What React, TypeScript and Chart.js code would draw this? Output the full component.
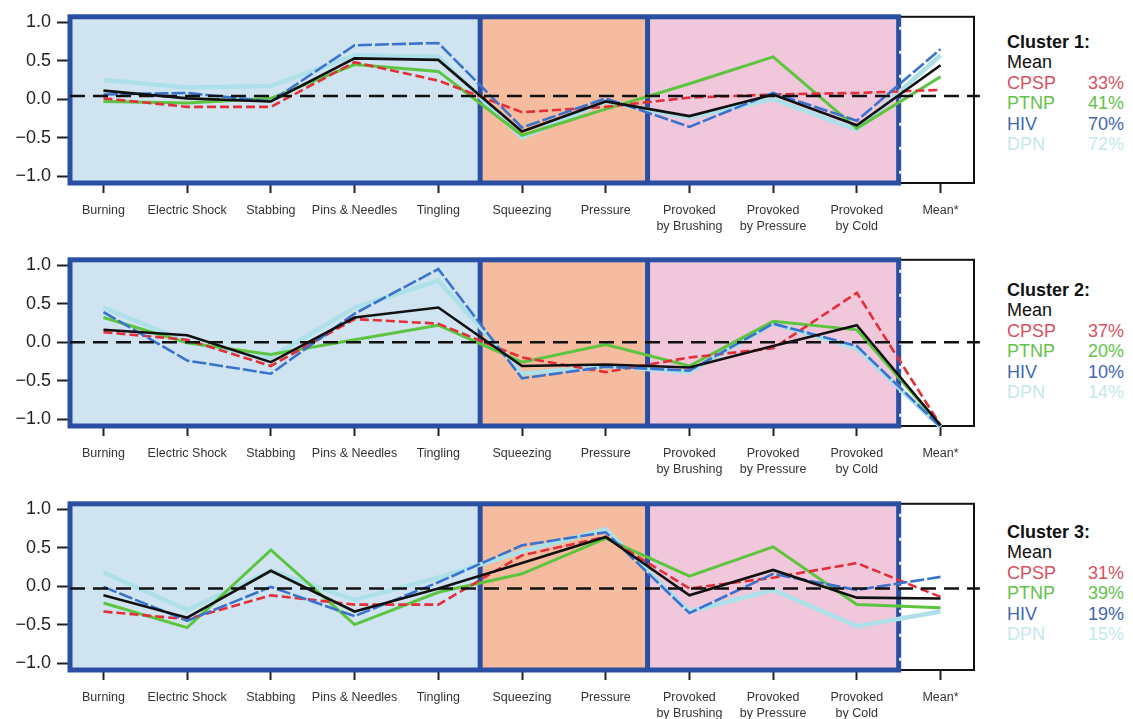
import React, { useEffect, useRef } from "react";
import { Chart, registerables } from "chart.js";
Chart.register(...registerables);

const categories: string[][] = [
  ["Burning"], ["Electric Shock"], ["Stabbing"], ["Pins & Needles"], ["Tingling"],
  ["Squeezing"], ["Pressure"], ["Provoked", "by Brushing"], ["Provoked", "by Pressure"],
  ["Provoked", "by Cold"], ["Mean*"],
];
const yTicks = [-1, -0.5, 0, 0.5, 1];

// Cluster 1
const c1Mean = [0.11, 0.01, -0.03, 0.53, 0.51, -0.42, -0.03, -0.22, 0.06, -0.34, 0.44];
const c1Cpsp = [0.01, -0.1, -0.1, 0.48, 0.24, -0.17, -0.1, 0.02, 0.06, 0.08, 0.12];
const c1Ptnp = [-0.03, -0.05, 0.01, 0.45, 0.36, -0.47, -0.13, 0.2, 0.55, -0.38, 0.29];
const c1Hiv = [0.06, 0.08, -0.03, 0.7, 0.73, -0.37, 0.01, -0.36, 0.08, -0.28, 0.65];
const c1Dpn = [0.25, 0.15, 0.17, 0.57, 0.55, -0.5, -0.03, -0.24, 0.0, -0.4, 0.57];
const c1Ref = 0.04;

// Cluster 2
const c2Mean = [0.16, 0.09, -0.26, 0.32, 0.45, -0.31, -0.29, -0.33, -0.05, 0.22, -1.08];
const c2Cpsp = [0.13, 0.03, -0.31, 0.3, 0.24, -0.2, -0.39, -0.2, -0.08, 0.64, -1.08];
const c2Ptnp = [0.32, -0.01, -0.16, 0.03, 0.22, -0.26, -0.03, -0.31, 0.27, 0.16, -1.08];
const c2Hiv = [0.39, -0.24, -0.41, 0.37, 0.95, -0.47, -0.32, -0.37, 0.24, -0.05, -1.1];
const c2Dpn = [0.45, 0.0, -0.2, 0.45, 0.8, -0.41, -0.31, -0.39, 0.24, -0.08, -1.1];
const c2Ref = 0.0;

// Cluster 3
const c3Mean = [-0.12, -0.41, 0.2, -0.33, -0.03, 0.3, 0.64, -0.12, 0.21, -0.15, -0.16];
const c3Cpsp = [-0.33, -0.43, -0.12, -0.24, -0.24, 0.4, 0.64, -0.03, 0.11, 0.3, -0.14];
const c3Ptnp = [-0.22, -0.54, 0.47, -0.5, -0.08, 0.16, 0.62, 0.13, 0.51, -0.24, -0.28];
const c3Hiv = [-0.01, -0.45, -0.01, -0.39, 0.05, 0.53, 0.7, -0.35, 0.16, -0.05, 0.12];
const c3Dpn = [0.18, -0.31, 0.2, -0.18, 0.11, 0.45, 0.74, -0.33, -0.05, -0.52, -0.33];
const c3Ref = -0.03;

const clusterNames = ["Cluster 1:", "Cluster 2:", "Cluster 3:"];
const groupNames = ["CPSP", "PTNP", "HIV", "DPN"];
const cpspPct = [33, 37, 31];
const ptnpPct = [41, 20, 39];
const hivPct = [70, 10, 19];
const dpnPct = [72, 14, 15];

const regionBounds = [-0.4, 4.5, 6.5, 9.5, 10.4];
const regionColors = ["#cfe4f0", "#f6bca0", "#f1c7dc", "#ffffff"];
const BLUE_BORDER = "#2a4ea2";

const COL_MEAN = "#111111";
const COL_CPSP = "#e2303a";
const COL_PTNP = "#5cc43e";
const COL_HIV = "#3b72cc";
const COL_DPN = "#aee0ea";
const legendColors = ["#d9505f", "#62c24a", "#4266b0", "#c4e8ec"];

const panelPlugin = {
  id: "panels",
  beforeDatasetsDraw(chart: any) {
    const { ctx, chartArea: a, scales } = chart;
    const x = scales.x;
    const px = regionBounds.map((v) => x.getPixelForValue(v));
    ctx.save();
    for (let i = 0; i < 4; i++) {
      ctx.fillStyle = regionColors[i];
      ctx.fillRect(px[i], a.top, px[i + 1] - px[i], a.bottom - a.top);
    }
    ctx.strokeStyle = "#111";
    ctx.lineWidth = 2;
    ctx.strokeRect(px[3], a.top, px[4] - px[3], a.bottom - a.top);
    ctx.strokeStyle = BLUE_BORDER;
    ctx.lineWidth = 5;
    ctx.strokeRect(px[0], a.top, px[3] - px[0], a.bottom - a.top);
    ctx.beginPath();
    ctx.moveTo(px[1], a.top);
    ctx.lineTo(px[1], a.bottom);
    ctx.moveTo(px[2], a.top);
    ctx.lineTo(px[2], a.bottom);
    ctx.stroke();
    ctx.strokeStyle = "#ffffff";
    ctx.lineWidth = 2;
    ctx.setLineDash([3, 21]);
    ctx.beginPath();
    ctx.moveTo(px[3] + 1.5, a.top + 10);
    ctx.lineTo(px[3] + 1.5, a.bottom);
    ctx.stroke();
    ctx.restore();
  },
};

function ds(label: string, data: number[], color: string, width: number, dash: number[]) {
  return {
    label,
    data: data.map((v, i) => ({ x: i, y: v })),
    borderColor: color,
    backgroundColor: color,
    borderWidth: width,
    borderDash: dash,
    pointRadius: 0,
    tension: 0,
    clip: false as any,
  };
}

function Panel({ top, mean, cpsp, ptnp, hiv, dpn, ref }: any) {
  const canvasRef = useRef<HTMLCanvasElement | null>(null);
  useEffect(() => {
    const canvas = canvasRef.current!;
    const chart = new Chart(canvas, {
      type: "line",
      data: {
        datasets: [
          {
            ...ds("zero", [], "#111", 2.5, [15, 8]),
            data: [
              { x: -0.4, y: ref },
              { x: 10.47, y: ref },
            ],
          },
          ds("Mean", mean, COL_MEAN, 2.6, []),
          ds("HIV", hiv, COL_HIV, 2.6, [14, 3]),
          ds("CPSP", cpsp, COL_CPSP, 2.6, [9, 4]),
          ds("PTNP", ptnp, COL_PTNP, 3, []),
          ds("DPN", dpn, COL_DPN, 4.5, []),
        ] as any,
      },
      options: {
        responsive: false,
        animation: false,
        layout: { padding: { top: 14, right: 16, bottom: 0, left: 0 } },
        plugins: { legend: { display: false }, tooltip: { enabled: false } },
        scales: {
          x: {
            type: "linear",
            min: -0.4,
            max: 10.4,
            afterBuildTicks: (axis: any) => {
              axis.ticks = categories.map((_, i) => ({ value: i }));
            },
            afterFit: (axis: any) => {
              axis.height = 57;
            },
            ticks: {
              autoSkip: false,
              maxRotation: 0,
              padding: 9,
              color: "#333",
              font: { family: "'Liberation Sans', Arial, sans-serif", size: 12.5, lineHeight: 1.3 },
              callback: (v: any) => categories[Math.round(Number(v))] ?? "",
            },
            grid: { drawOnChartArea: false, drawTicks: true, tickLength: 10, tickWidth: 2, tickColor: "#222" },
            border: { display: false },
          },
          y: {
            type: "linear",
            min: -1.09,
            max: 1.07,
            afterBuildTicks: (axis: any) => {
              axis.ticks = yTicks.map((v) => ({ value: v }));
            },
            afterFit: (axis: any) => {
              axis.width = 70;
            },
            ticks: {
              padding: 6,
              color: "#222",
              font: { family: "'Liberation Sans', Arial, sans-serif", size: 18 },
              callback: (v: any) => {
                const n = Number(v);
                const s = Math.abs(n).toFixed(1);
                return n < 0 ? "\u2212" + s : s;
              },
            },
            grid: { drawOnChartArea: false, drawTicks: true, tickLength: 13, tickWidth: 2, tickColor: "#222" },
            border: { display: false },
          },
        },
      },
      plugins: [panelPlugin],
    });
    return () => chart.destroy();
  }, []);
  return (
    <canvas
      ref={canvasRef}
      width={990}
      height={240}
      style={{ position: "absolute", left: 0, top, width: 990, height: 240 }}
    />
  );
}

function Legend({ idx, top }: { idx: number; top: number }) {
  const pcts = [cpspPct[idx], ptnpPct[idx], hivPct[idx], dpnPct[idx]];
  const font = "'Liberation Sans', Arial, sans-serif";
  return (
    <div style={{ position: "absolute", left: 1007, top, fontFamily: font, fontSize: 18, lineHeight: "20.4px" }}>
      <div style={{ fontWeight: "bold", color: "#111" }}>{clusterNames[idx]}</div>
      <div style={{ color: "#111" }}>Mean</div>
      {groupNames.map((g, i) => (
        <div key={g} style={{ color: legendColors[i], position: "relative", height: 20.4 }}>
          <span>{g}</span>
          <span style={{ position: "absolute", left: 81 }}>{pcts[i]}%</span>
        </div>
      ))}
    </div>
  );
}

export default function App() {
  return (
    <div style={{ position: "absolute", left: 0, top: 0, width: 1133, height: 719, background: "#fff", overflow: "hidden" }}>
      <Panel top={0} mean={c1Mean} cpsp={c1Cpsp} ptnp={c1Ptnp} hiv={c1Hiv} dpn={c1Dpn} ref={c1Ref} />
      <Panel top={243} mean={c2Mean} cpsp={c2Cpsp} ptnp={c2Ptnp} hiv={c2Hiv} dpn={c2Dpn} ref={c2Ref} />
      <Panel top={487} mean={c3Mean} cpsp={c3Cpsp} ptnp={c3Ptnp} hiv={c3Hiv} dpn={c3Dpn} ref={c3Ref} />
      <Legend idx={0} top={32} />
      <Legend idx={1} top={280} />
      <Legend idx={2} top={522} />
    </div>
  );
}
